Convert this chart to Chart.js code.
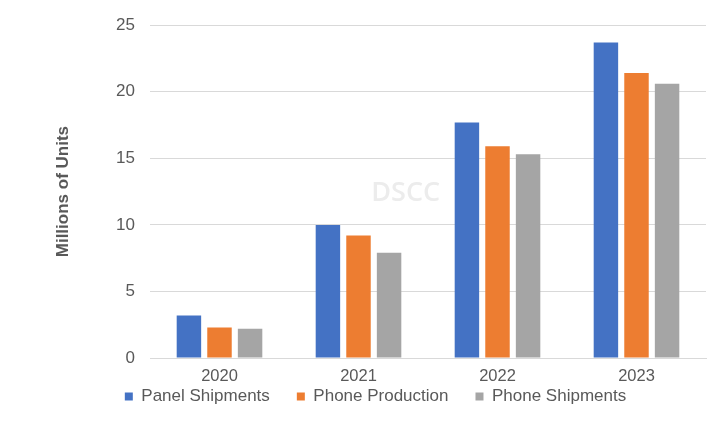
<!DOCTYPE html>
<html>
<head>
<meta charset="utf-8">
<script src="https://cdn.jsdelivr.net/npm/chart.js@4"></script>
<style>
html,body{margin:0;padding:0;background:#fff;}
#wrap{width:720px;height:421px;position:relative;}
</style>
</head>
<body>
<div id="wrap"><canvas id="c" width="720" height="421"></canvas></div>
<script>
const categories = ["2020", "2021", "2022", "2023"];
const seriesNames = ["Panel Shipments", "Phone Production", "Phone Shipments"];
const panelShipments = [3.2, 10.0, 17.7, 23.7];
const phoneProduction = [2.3, 9.2, 15.9, 21.4];
const phoneShipments = [2.2, 7.9, 15.3, 20.6];
const yTicks = [0, 5, 10, 15, 20, 25];
const yTitle = "Millions of Units";
const watermark = "DSCC";

const colors = ["#4472C4", "#ED7D31", "#A5A5A5"];
const seriesValues = [panelShipments, phoneProduction, phoneShipments];
const FONT = '"Liberation Sans", Arial, sans-serif';

const watermarkPlugin = {
  id: 'watermark',
  beforeDatasetsDraw(chart) {
    const ctx = chart.ctx;
    const a = chart.chartArea;
    ctx.save();
    ctx.font = '600 27px "Open Sans"';
    ctx.fillStyle = '#ececec';
    ctx.textAlign = 'center';
    ctx.textBaseline = 'middle';
    ctx.fillText(watermark, a.left + (a.right - a.left) * 0.46, a.top + (a.bottom - a.top) * 0.505);
    ctx.restore();
  }
};

new Chart(document.getElementById('c'), {
  type: 'bar',
  data: {
    labels: categories,
    datasets: seriesNames.map((n, i) => ({
      label: n,
      data: seriesValues[i],
      backgroundColor: colors[i],
      borderWidth: 0,
      categoryPercentage: 0.66,
      barPercentage: 0.8
    }))
  },
  options: {
    responsive: false,
    animation: false,
    layout: { padding: { left: 45, right: 14, top: 19, bottom: 6 } },
    plugins: {
      tooltip: { enabled: false },
      legend: {
        position: 'bottom',
        labels: {
          boxWidth: 8,
          boxHeight: 8,
          padding: 27,
          color: '#595959',
          font: { family: FONT, size: 17 }
        }
      }
    },
    scales: {
      x: {
        grid: { display: false, drawTicks: false },
        border: { display: true, color: '#d9d9d9', width: 1 },
        ticks: { color: '#595959', padding: 9, font: { family: FONT, size: 16.5 } },
        afterFit(s) { s._computeLabelArea = () => undefined; s.height = 3; }
      },
      y: {
        min: 0, max: 25,
        afterBuildTicks(s) { s.ticks = yTicks.map(v => ({ value: v })); },
        grid: { color: '#d9d9d9', drawTicks: false },
        border: { display: false },
        ticks: { color: '#595959', padding: 15, font: { family: FONT, size: 17 } },
        title: {
          display: true,
          text: yTitle,
          color: '#595959',
          padding: { top: 8, bottom: 0 },
          font: { family: FONT, size: 17, weight: 'bold' }
        },
        afterFit(s) { s.width = 105; }
      }
    }
  },
  plugins: [watermarkPlugin]
});
</script>
</body>
</html>
